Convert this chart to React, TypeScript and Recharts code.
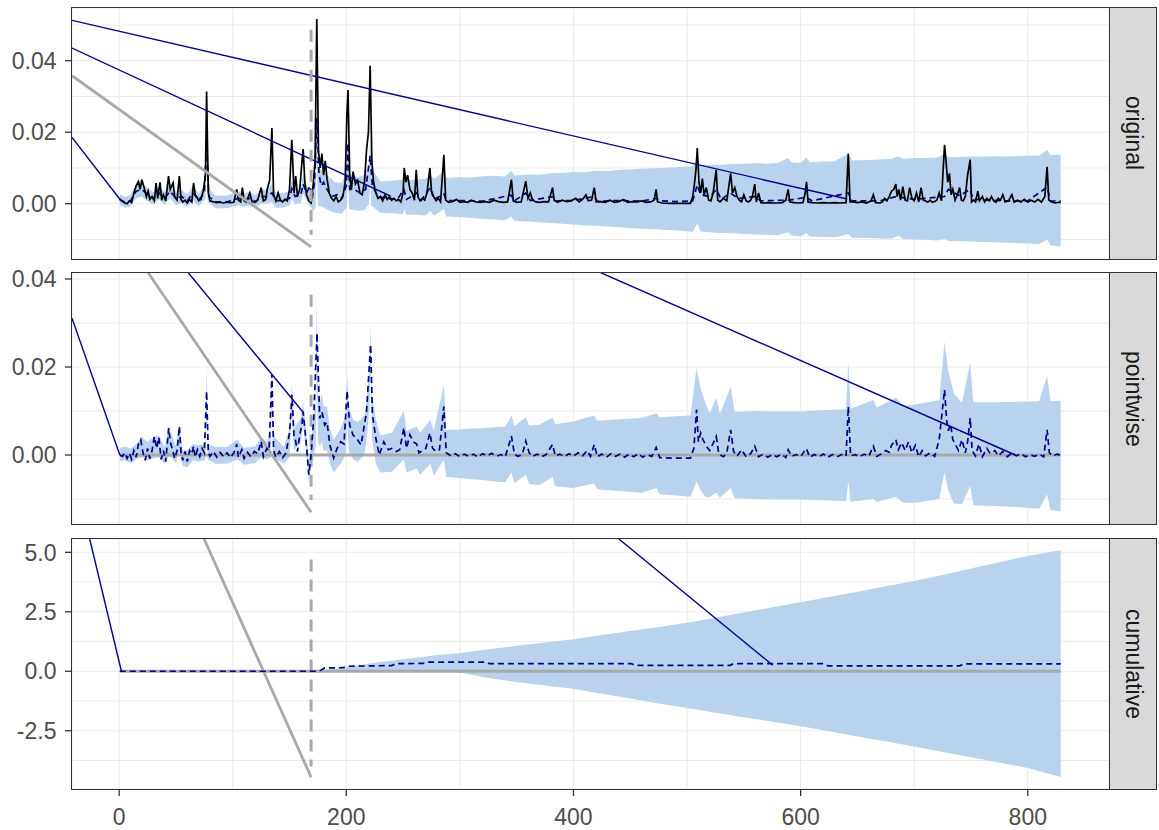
import React from 'react'
import { Area, CartesianGrid, ComposedChart, Line, XAxis, YAxis } from 'recharts'

type P = [number, number]
type R = [number, number, number]

const FONT = '"Liberation Sans", Arial, Helvetica, sans-serif'
const DARKBLUE = '#00008b'
const GREY = '#a9a9a9'
const BAND = '#b9d3ee'

// x axis (shared by all three facets)
const xDomain: [number, number] = [-41.5, 871.5]
const xTicks = [0, 100, 200, 300, 400, 500, 600, 700, 800]
const xMajor = [0, 200, 400, 600, 800]
const interventionX = 169

// y axes per facet
const p1Domain: [number, number] = [-0.01547, 0.05475]
const p1Ticks = [-0.01, 0, 0.01, 0.02, 0.03, 0.04, 0.05]
const p1Major = [0, 0.02, 0.04]
const p2Domain: [number, number] = [-0.01568, 0.04136]
const p2Ticks = [-0.01, 0, 0.01, 0.02, 0.03, 0.04]
const p2Major = [0, 0.02, 0.04]
const p3Domain: [number, number] = [-4.95, 5.56]
const p3Ticks = [-3.75, -2.5, -1.25, 0, 1.25, 2.5, 3.75, 5]
const p3Major = [-2.5, 0, 2.5, 5]

// original: observed series (black)
const observed: P[] = [
  [0.6, 0.0013], [3, 0.0006], [5, 0.0002], [7, 0], [9, 0.0008], [11, 0.0003], [13, 0.003], [15, 0.005],
  [17, 0.0062], [18.5, 0.004], [20, 0.0067], [22, 0.0045], [24, 0.002], [25.5, 0.0035], [27, 0.0012],
  [29, 0.002], [31, 0.0008], [32.5, 0.0058], [34, 0.0015], [36, 0.006], [37.5, 0.001], [39, 0.0025],
  [41, 0.0008], [43.5, 0.0077], [45, 0.004], [47.5, 0.0058], [49, 0.0018], [51, 0.001], [53, 0.0077],
  [54.5, 0.0012], [56, 0.0005], [58, 0.001], [60, 0.0002], [62, 0.0012], [64, 0.0005], [65.5, 0.0058],
  [67, 0.0025], [68.5, 0.0018], [70, 0.0008], [72, 0.0012], [74, 0.0035], [76, 0.008], [77, 0.0314],
  [78.5, 0.003], [80, 0.0008], [83, 0.0005], [86, 0.0003], [89, 0.0004], [92, 0.0002], [95, 0.0004],
  [98, 0.0003], [101, 0.0004], [103.5, 0.004], [105, 0.001], [107, 0.0005], [108.5, 0.0045], [110, 0.0008],
  [112, 0.0004], [115, 0.003], [117, 0.0006], [120, 0.0004], [122, 0.001], [125, 0.0045], [127, 0.0008],
  [129, 0.0012], [130.5, 0.0042], [132.5, 0.0065], [134.5, 0.0212], [136, 0.0025], [138, 0.0008],
  [140, 0.003], [142, 0.001], [144, 0.0005], [146, 0.0012], [148, 0.0008], [150, 0.004], [152, 0.0179],
  [154, 0.003], [155.5, 0.0077], [157, 0.002], [159, 0.004], [160.5, 0.01], [162, 0.0153], [163.5, 0.006],
  [165, 0.0025], [167, 0.0008], [169, 0.0002],
  [171, 0.006], [172.5, 0.012], [174, 0.0517], [175.5, 0.015], [177, 0.01], [178.5, 0.014], [180, 0.008],
  [181.5, 0.012], [183, 0.007], [185, 0.003], [187, 0.0015], [189, 0.0008], [191, 0.002], [193, 0.0005],
  [195, 0.001], [197, 0.002], [199, 0.006], [200.5, 0.025], [201.5, 0.0318], [203, 0.008], [204.5, 0.004],
  [206, 0.009], [208, 0.0055], [210, 0.0065], [212, 0.003], [214, 0.0025], [216, 0.006], [217.8, 0.015],
  [219.5, 0.02], [221, 0.0386], [222.5, 0.012], [224, 0.006], [226, 0.003], [228, 0.0015], [230, 0.002],
  [232, 0.0008], [234, 0.0025], [236, 0.0012], [238, 0.002], [240, 0.001], [242, 0.0015], [244, 0.0008],
  [246, 0.0012], [248, 0.0005], [250, 0.003], [251, 0.01], [252.5, 0.006], [254, 0.008], [256, 0.004],
  [258, 0.003], [260, 0.001], [261.6, 0.0095], [263, 0.002], [265, 0.0008], [267, 0.0015], [269, 0.001],
  [271, 0.003], [273.6, 0.01], [275, 0.0035], [277, 0.002], [279, 0.0008], [281, 0.0015], [283, 0.0005],
  [285.9, 0.0137], [287.5, 0.001], [290, 0.0004], [294, 0.0006], [297, 0.0012], [300, 0.0004], [304, 0.0006],
  [307, 0.0004], [310, 0.001], [314, 0.0005], [318, 0.0004], [322, 0.0006], [326, 0.0004], [330, 0.001],
  [334, 0.0006], [338, 0.0004], [342, 0.0005], [345.4, 0.0067], [347, 0.0008], [350, 0.0004], [354, 0.0005],
  [358, 0.0063], [360, 0.0015], [362, 0.003], [364, 0.001], [367, 0.0005], [370, 0.0004], [374, 0.0006],
  [378, 0.0005], [381.6, 0.0045], [383, 0.001], [386, 0.0004], [390, 0.001], [394, 0.0006], [398, 0.0008],
  [402, 0.0015], [405, 0.0005], [408, 0.0012], [411, 0.0025], [413, 0.0008], [416, 0.001], [418.3, 0.0045],
  [420, 0.0005], [424, 0.0006], [428, 0.0004], [432, 0.001], [436, 0.0004], [440, 0.0006], [444, 0.0012],
  [448, 0.0004], [452, 0.0006], [456, 0.0005], [460, 0.0008], [464, 0.0004], [468, 0.0005], [471, 0.001],
  [472.8, 0.004], [474, 0.0005], [478, 0.0002], [485, 0.0001], [495, 0.0001], [503, 0.0001], [505, 0.002],
  [506.5, 0.0055], [508, 0.01], [509, 0.0156], [510.5, 0.006], [512, 0.003], [513.5, 0.007], [515, 0.0025],
  [517, 0.0045], [519, 0.001], [521, 0.0008], [523, 0.003], [525.7, 0.0095], [527, 0.001], [529, 0.0005],
  [532, 0.0015], [535, 0.0008], [538.4, 0.0085], [540, 0.003], [542, 0.0045], [544, 0.002], [546, 0.001],
  [548, 0.0005], [550, 0.0025], [552, 0.0008], [554, 0.0005], [556, 0.001], [557.5, 0.002], [559.6, 0.0055],
  [561, 0.0005], [563, 0.003], [565, 0.0003], [568, 0.0002], [572, 0.0003], [576, 0.0002], [580, 0.0002],
  [584, 0.0003], [587, 0.001], [589, 0.004], [590.5, 0.0005], [594, 0.0003], [598, 0.0002], [602, 0.0003],
  [604, 0.003], [605.2, 0.0061], [606.5, 0.0005], [610, 0.0003], [615, 0.0002], [620, 0.0003], [625, 0.0002],
  [630, 0.0003], [635, 0.0002], [640, 0.0003], [642, 0.014], [643.5, 0.0005], [646, 0.0005], [650, 0.0003],
  [654, 0.0005], [658, 0.0002], [662, 0.0008], [664, 0.0025], [666, 0.0003], [670, 0.0002], [672, 0.0005],
  [674, 0.0015], [676, 0.0008], [678, 0.002], [680, 0.0035], [682, 0.004], [683.8, 0.0055], [685, 0.002],
  [686.5, 0.004], [688, 0.001], [690, 0.0048], [692, 0.001], [694, 0.0008], [696, 0.0045], [698, 0.0015],
  [700, 0.0008], [702, 0.003], [704, 0.0005], [706, 0.0045], [708, 0.001], [710, 0.0008], [712, 0.0004],
  [714, 0.001], [716, 0.0004], [718, 0.0006], [720, 0.001], [722, 0.003], [724, 0.0008], [726.7, 0.0165],
  [728, 0.012], [729.5, 0.006], [731, 0.0085], [732.5, 0.0025], [734, 0.004], [736, 0.001], [738, 0.0025],
  [740, 0.0045], [741.5, 0.001], [743, 0.0008], [745, 0.002], [747, 0.008], [749.3, 0.0123], [750.5, 0.0005],
  [752, 0.001], [754, 0.0005], [756, 0.0035], [757.5, 0.0008], [760, 0.002], [762, 0.0005], [764, 0.0015],
  [766, 0.0008], [768, 0.002], [770, 0.0008], [772, 0.0004], [774, 0.0015], [776, 0.001], [778, 0.0025],
  [780, 0.0005], [783, 0.0008], [786, 0.0025], [788, 0.0004], [791, 0.001], [794, 0.0005], [797, 0.0012],
  [800, 0.0004], [803, 0.001], [806, 0.0005], [809, 0.0012], [812, 0.0004], [815, 0.002], [817, 0.0103],
  [818.5, 0.001], [821, 0.0005], [824, 0.0002], [827, 0.0004], [829, 0.0003],
]

// original: predicted series (dashed blue)
const predicted: P[] = [
  [0.6, 0.0012], [5, 0.0004], [10, 0.0008], [15, 0.0035], [20, 0.004], [25, 0.0025], [30, 0.0015],
  [35, 0.003], [40, 0.0015], [45, 0.0035], [50, 0.0015], [55, 0.002], [60, 0.0008], [65, 0.003], [70, 0.001],
  [75, 0.003], [77, 0.017], [79, 0.002], [85, 0.0005], [95, 0.0005], [105, 0.0015], [110, 0.001],
  [115, 0.0015], [120, 0.0006], [125, 0.002], [130, 0.002], [134.5, 0.003], [138, 0.0008], [145, 0.001],
  [150, 0.0015], [152, 0.0042], [155, 0.002], [160, 0.0025], [162, 0.0055], [165, 0.003], [168, 0.005],
  [170, 0.0015], [172, 0.006], [174, 0.024], [176, 0.008], [178, 0.005], [180, 0.006], [183, 0.004],
  [187, 0.002], [192, 0.0025], [196, 0.0015], [200, 0.005], [201.5, 0.017], [203, 0.004], [207, 0.004],
  [212, 0.003], [217, 0.004], [221, 0.0135], [223, 0.005], [228, 0.002], [235, 0.0015], [245, 0.0012],
  [250.7, 0.004], [253, 0.0012], [262, 0.003], [266, 0.001], [274, 0.0045], [277, 0.0012], [286, 0.0027],
  [288, 0.0009], [300, 0.0009], [320, 0.0007], [345, 0.0024], [348, 0.0008], [358, 0.003], [362, 0.0009],
  [382, 0.002], [385, 0.0008], [400, 0.0009], [418, 0.002], [421, 0.0007], [440, 0.0009], [460, 0.0007],
  [473, 0.0015], [476, 0.0008], [490, 0.0006], [505, 0.0008], [509, 0.0053], [512, 0.0025], [520, 0.002],
  [526, 0.004], [530, 0.0012], [538, 0.003], [545, 0.0015], [560, 0.002], [565, 0.0008], [590, 0.001],
  [605, 0.0018], [610, 0.0008], [642, 0.003], [645, 0.0008], [670, 0.0008], [684, 0.002], [700, 0.0012],
  [726.7, 0.002], [730, 0.004], [740, 0.0022], [749, 0.004], [752, 0.0012], [780, 0.0008], [800, 0.0008],
  [817, 0.0046], [820, 0.0008], [829, 0.0007],
]

// original: interval [lower, upper]
const originalBand: R[] = [
  [0.6, -0.0003, 0.0027], [5, -0.0011, 0.0019], [10, -0.0008, 0.0024], [15, 0.0015, 0.0055],
  [20, 0.002, 0.006], [25, 0.0007, 0.0043], [30, -0.0002, 0.0032], [35, 0.0012, 0.0048],
  [40, -0.0003, 0.0033], [45, 0.0015, 0.0055], [50, -0.0004, 0.0034], [55, 0.0002, 0.0038],
  [60, -0.001, 0.0026], [65, 0.001, 0.005], [70, -0.0008, 0.0028], [75, 0.001, 0.005], [76, 0.0015, 0.0055],
  [77, 0.013, 0.021], [78, 0.0005, 0.0045], [85, -0.0013, 0.0023], [95, -0.0013, 0.0023],
  [105, -0.0004, 0.0034], [110, -0.0008, 0.0028], [115, -0.0004, 0.0034], [120, -0.0012, 0.0024],
  [125, 0, 0.004], [130, 0, 0.004], [134.5, 0.0005, 0.0055], [138, -0.0012, 0.0028], [145, -0.001, 0.003],
  [150, -0.0005, 0.0035], [152, 0.0015, 0.0065], [155, -0.0002, 0.0042], [160, 0.0003, 0.0047],
  [162, 0.003, 0.008], [165, 0.0008, 0.0052], [169, -0.0012, 0.0032], [171, -0.002, 0.005],
  [173, -0.001, 0.008], [174, 0.012, 0.03], [175, -0.0005, 0.01], [178, -0.0008, 0.0095],
  [180, -0.001, 0.009], [185, -0.002, 0.0075], [190, -0.0025, 0.006], [196, -0.0028, 0.0058],
  [200.5, -0.001, 0.009], [201.5, 0.008, 0.022], [202.5, -0.0015, 0.0085], [210, -0.002, 0.0075],
  [216, -0.0018, 0.008], [220, 0, 0.011], [221, 0.006, 0.019], [222, -0.0005, 0.01], [230, -0.0025, 0.0062],
  [240, -0.0027, 0.0064], [250, -0.0029, 0.0068], [251, -0.0015, 0.0085], [253, -0.003, 0.0066],
  [260, -0.0031, 0.0068], [270, -0.0033, 0.007], [274, -0.002, 0.0082], [277, -0.0034, 0.0069],
  [286, -0.0015, 0.009], [288, -0.0036, 0.0072], [300, -0.0038, 0.0074], [310, -0.004, 0.0073],
  [320, -0.0043, 0.0077], [330, -0.0044, 0.0078], [340, -0.0046, 0.0076], [345, -0.0035, 0.0092],
  [348, -0.0048, 0.0079], [360, -0.005, 0.0082], [370, -0.0052, 0.0081], [380, -0.0054, 0.0085],
  [390, -0.0056, 0.0086], [400, -0.0058, 0.0089], [410, -0.0061, 0.0088], [420, -0.0062, 0.0092],
  [430, -0.0064, 0.0091], [440, -0.0066, 0.0095], [450, -0.0068, 0.0096], [460, -0.007, 0.0098],
  [470, -0.0071, 0.0099], [480, -0.0073, 0.01], [490, -0.0075, 0.0102], [500, -0.0077, 0.0104],
  [505, -0.0079, 0.0104], [509, -0.0055, 0.0125], [512, -0.0078, 0.0106], [520, -0.008, 0.0108],
  [530, -0.0082, 0.0109], [540, -0.0083, 0.0111], [550, -0.0085, 0.0112], [560, -0.0086, 0.0113],
  [570, -0.0087, 0.0112], [580, -0.0088, 0.0114], [589, -0.008, 0.0128], [592, -0.0089, 0.0115],
  [600, -0.0091, 0.0114], [605, -0.0082, 0.013], [608, -0.0092, 0.0116], [620, -0.0093, 0.0118],
  [630, -0.0094, 0.0119], [642, -0.0085, 0.014], [645, -0.0095, 0.0121], [660, -0.0096, 0.0122],
  [670, -0.0097, 0.0124], [680, -0.0098, 0.0125], [686, -0.009, 0.0133], [690, -0.0099, 0.0126],
  [700, -0.01, 0.0128], [710, -0.0101, 0.0128], [720, -0.0103, 0.0129], [727, -0.0098, 0.014],
  [730, -0.0104, 0.013], [740, -0.0105, 0.0131], [750, -0.0106, 0.0132], [760, -0.0107, 0.0132],
  [770, -0.0108, 0.0133], [780, -0.0109, 0.0132], [790, -0.011, 0.0133], [800, -0.0111, 0.0134],
  [810, -0.0113, 0.0135], [817, -0.01, 0.015], [820, -0.0116, 0.0136], [829, -0.012, 0.0137],
]

// pointwise effect (dashed blue)
const pointwise: P[] = [
  [0.6, 0], [3, -0.0003], [5, 0.0005], [7, -0.0008], [9, 0.0004], [11, -0.001], [13, 0.001], [15, -0.0005],
  [17, 0.0025], [19, 0.0035], [21, 0.0005], [23, -0.0012], [25, 0.0015], [27, -0.0008], [29, 0.001],
  [31, 0.0042], [33, 0.0015], [35, 0.004], [37, -0.001], [39, 0.001], [41, -0.0015], [43.6, 0.0061],
  [45, 0.003], [47, 0.0012], [49, -0.0008], [51, 0.001], [53, 0.0065], [54.5, 0.0005], [56, -0.0012],
  [58, 0.0008], [60, -0.0015], [62, 0.001], [64, 0.0002], [65.5, 0.002], [67, -0.0005], [69, 0.0012],
  [71, -0.0003], [73, 0.0015], [75, 0.0005], [77, 0.0145], [78.5, 0.0005], [80, -0.0003], [83, 0.0008],
  [86, -0.0005], [89, 0.0006], [92, -0.0004], [95, 0.0005], [98, -0.0006], [101, 0.0005], [103.6, 0.0025],
  [105, -0.0005], [108, 0.0012], [110, -0.0008], [113, 0.0006], [116, -0.0004], [119, 0.0008], [122, 0.0003],
  [125, 0.0031], [127, -0.0004], [130, 0.0015], [132, 0.001], [134.5, 0.0183], [136, 0.001], [138, -0.0005],
  [141, 0.0008], [144, -0.0006], [147, 0.0005], [150, 0.005], [152.2, 0.0137], [154, 0.004], [155, 0.0037],
  [157, 0.0008], [159, 0.0045], [161, 0.007], [162, 0.0098], [163.5, 0.006], [165, 0.002], [167, -0.0045],
  [169, 0], [171.3, 0.0083], [174.2, 0.0277], [176.6, 0.0083], [178.6, 0.0098], [181, 0.0068], [183, 0.0075],
  [185.5, 0.0023], [188.9, -0.0007], [191.9, 0.0015], [195, 0.003], [198, 0.0025], [200.7, 0.0146],
  [203, 0.0068], [206, 0.0045], [209, 0.0038], [213, 0.0023], [217.8, 0.0098], [221.4, 0.0251], [223, 0.0092],
  [226, 0.0038], [229, 0], [233, 0.003], [237, 0.0012], [240, 0.0015], [244, 0.0008], [247, 0.0012],
  [250.7, 0.0062], [253, 0.0015], [256, 0.0046], [259, 0.003], [262, 0.0025], [264, 0.0005], [267, 0.001],
  [270, 0.0015], [273.6, 0.005], [276, 0.0015], [279, 0.0008], [282, 0.0012], [285.9, 0.011], [288, 0.0005],
  [292, -0.0002], [296, 0.0003], [300, -0.0004], [304, 0.0002], [308, -0.0003], [312, 0.0002], [316, -0.0005],
  [320, 0.0003], [324, -0.0002], [328, 0.0004], [332, -0.0003], [336, 0.0001], [340, -0.0004], [345.4, 0.0043],
  [348, 0.0002], [351, -0.0003], [355, 0.0001], [358, 0.0032], [361, 0.0005], [364, -0.0003], [368, 0.0002],
  [372, -0.0004], [376, 0.0001], [381.6, 0.0024], [384, -0.0002], [388, 0.0002], [392, -0.0004], [396, 0.0003],
  [400, -0.0003], [404, 0.0005], [408, -0.0002], [412, 0.001], [415, -0.0003], [418.3, 0.0024], [421, -0.0004],
  [425, 0.0002], [429, -0.0005], [433, 0.0003], [437, -0.0003], [441, 0.0002], [445, -0.0005], [449, 0.0002],
  [453, -0.0004], [457, 0.0003], [461, -0.0005], [465, 0.0001], [469, -0.0003], [472.8, 0.0017], [476, -0.0006],
  [485, -0.0007], [495, -0.0007], [503, -0.0007], [506, 0.0015], [508.4, 0.0103], [510, 0.003], [512, 0.005],
  [514, 0.0035], [517, 0.002], [520, 0.001], [525.7, 0.0042], [528, 0.0002], [532, -0.0004], [535, 0.0005],
  [538.4, 0.0057], [541, 0.0008], [544, -0.0003], [548, 0.0012], [552, -0.0004], [556, 0.0003], [559.6, 0.002],
  [563, -0.0004], [567, 0.0002], [571, -0.0005], [575, 0.0001], [579, -0.0004], [583, 0.0002], [587, -0.0006],
  [589, 0.0012], [592, -0.0003], [596, 0.0001], [600, -0.0004], [605, 0.0015], [608, -0.0005], [612, 0.0001],
  [616, -0.0004], [620, 0.0002], [624, -0.0005], [628, 0.0001], [632, -0.0004], [636, 0.0001], [640, -0.0003],
  [642, 0.011], [644, -0.0002], [648, 0.0001], [652, -0.0004], [656, 0.0002], [660, -0.0003], [664, 0.002],
  [667, -0.0003], [671, 0.0002], [675, 0.001], [678, 0.0006], [680, 0.0022], [683.8, 0.0035], [686, 0.0012],
  [689, 0.0028], [692, 0.001], [695, 0.003], [698, 0.0005], [701, 0.0022], [704, -0.0004], [707, 0.001],
  [710, -0.0002], [714, 0.0005], [718, -0.0003], [722, 0.0035], [726.7, 0.0148], [728.5, 0.008], [730, 0.0055],
  [732, 0.007], [734, 0.0035], [736, 0.0025], [739, 0.001], [742, 0.0035], [745, 0.0005], [747, 0.003],
  [749.3, 0.0084], [751, 0.001], [754, -0.0002], [757, 0.0025], [760, -0.0004], [764, 0.0015], [767, 0.0003],
  [771, 0.001], [774, -0.0002], [778, 0.0008], [782, -0.0004], [786, 0.0005], [790, -0.0002], [794, 0.0003],
  [798, -0.0004], [802, 0.0001], [806, -0.0003], [810, 0.0002], [814, -0.0004], [817, 0.0057], [819, 0.0005],
  [822, -0.0002], [826, 0.0002], [829, -0.0001],
]

// pointwise: interval [lower, upper]
const pointwiseBand: R[] = [
  [0.6, -0.0014, 0.0016], [5, -0.0012, 0.002], [10, -0.0018, 0.0014], [15, -0.001, 0.0025],
  [20, -0.0005, 0.004], [25, -0.0012, 0.003], [30, -0.0008, 0.004], [35, -0.0005, 0.0045],
  [40, -0.002, 0.0018], [44, 0, 0.0065], [50, -0.0018, 0.002], [53, 0.001, 0.0068], [56, -0.0025, 0.001],
  [60, -0.0028, 0.001], [65, -0.0012, 0.0025], [70, -0.0015, 0.0022], [75, -0.0012, 0.0025],
  [76, -0.001, 0.003], [77, 0.009, 0.021], [78, -0.001, 0.0025], [85, -0.002, 0.0018], [95, -0.002, 0.0018],
  [104, -0.001, 0.0035], [110, -0.0022, 0.0016], [120, -0.0018, 0.002], [125, -0.0005, 0.004],
  [130, -0.001, 0.003], [133.5, -0.0005, 0.005], [134.5, 0.013, 0.02], [135.5, -0.0005, 0.0045],
  [145, -0.002, 0.0018], [150, -0.0005, 0.006], [152, 0.01, 0.016], [154, 0.001, 0.006], [160, 0.003, 0.0085],
  [162, 0.007, 0.012], [165, -0.0005, 0.0045], [167, -0.0065, -0.002], [169, -0.0025, 0.002],
  [171, -0.001, 0.009], [173, 0.002, 0.012], [174, 0.02, 0.0364], [175.2, 0.003, 0.013], [176.6, 0.002, 0.012],
  [178.6, 0.003, 0.014], [180, 0.001, 0.011], [183, 0.001, 0.011], [185.5, -0.002, 0.006],
  [189, -0.004, 0.0035], [195, -0.002, 0.006], [199.5, 0, 0.009], [200.7, 0.009, 0.019], [202, 0.001, 0.011],
  [206, -0.001, 0.008], [210, -0.0015, 0.0075], [216, 0, 0.009], [218, 0.004, 0.013], [220.3, 0.01, 0.02],
  [221.4, 0.019, 0.0297], [222.5, 0.004, 0.014], [226, -0.002, 0.008], [230, -0.004, 0.0045],
  [240, -0.0038, 0.005], [250.7, -0.001, 0.01], [253, -0.004, 0.0055], [262, -0.003, 0.0065],
  [265, -0.0045, 0.005], [274, -0.002, 0.008], [277, -0.0047, 0.0055], [286, -0.001, 0.016],
  [288, -0.005, 0.0057], [300, -0.0052, 0.0058], [310, -0.0055, 0.006], [320, -0.0057, 0.0061],
  [330, -0.006, 0.0063], [340, -0.0062, 0.0064], [345.4, -0.004, 0.009], [348, -0.0064, 0.0066],
  [358, -0.0045, 0.0085], [361, -0.0066, 0.0067], [370, -0.0068, 0.0069], [381.6, -0.005, 0.0085],
  [384, -0.0071, 0.007], [400, -0.0075, 0.0076], [418, -0.0065, 0.009], [421, -0.0078, 0.0078],
  [440, -0.0082, 0.0081], [460, -0.0086, 0.0084], [473, -0.0075, 0.0095], [476, -0.0089, 0.0086],
  [490, -0.0092, 0.0088], [503, -0.0095, 0.009], [508.4, -0.006, 0.0198], [512, -0.008, 0.015],
  [516, -0.0095, 0.012], [520, -0.0096, 0.0095], [525.7, -0.0085, 0.013], [529, -0.0097, 0.0094],
  [538.4, -0.0075, 0.0155], [542, -0.0098, 0.0098], [560, -0.01, 0.01], [580, -0.0101, 0.0099],
  [600, -0.0101, 0.0099], [620, -0.0103, 0.0102], [640, -0.0105, 0.0104], [642, -0.006, 0.0213],
  [644, -0.0106, 0.0105], [664, -0.01, 0.0125], [667, -0.0107, 0.0108], [684, -0.0095, 0.013],
  [690, -0.0108, 0.0112], [700, -0.0109, 0.0114], [722, -0.01, 0.0125], [726.7, -0.004, 0.0258],
  [730, -0.008, 0.019], [735, -0.011, 0.014], [742, -0.0112, 0.0118], [749.3, -0.007, 0.021],
  [752, -0.0114, 0.012], [770, -0.0116, 0.012], [790, -0.0118, 0.0121], [810, -0.0122, 0.0122],
  [817, -0.009, 0.018], [820, -0.0125, 0.0123], [829, -0.0128, 0.0123],
]

// cumulative effect (dashed blue)
const cumulative: P[] = [
  [0.6, 0], [170, 0], [176, 0], [181, 0.14], [197, 0.15], [201, 0.21], [240, 0.24], [244, 0.32],
  [268, 0.33], [272, 0.38], [323, 0.38], [326, 0.32], [451, 0.32], [454, 0.25], [538, 0.25], [541, 0.32],
  [620, 0.32], [624, 0.23], [740, 0.23], [744, 0.31], [829, 0.31],
]

// cumulative: interval [lower, upper]
const cumulativeBand: R[] = [
  [170, 0, 0], [200, 0, 0.17], [225, 0, 0.36], [250, 0, 0.5], [275, -0.01, 0.65], [300, -0.05, 0.77],
  [325, -0.28, 0.92], [350, -0.45, 1.07], [375, -0.6, 1.21], [400, -0.74, 1.35], [425, -0.95, 1.52],
  [450, -1.15, 1.69], [475, -1.36, 1.86], [500, -1.54, 2.04], [525, -1.74, 2.25], [550, -1.93, 2.47],
  [575, -2.12, 2.69], [600, -2.31, 2.9], [625, -2.52, 3.12], [650, -2.74, 3.34], [675, -2.95, 3.57],
  [700, -3.16, 3.79], [725, -3.39, 4.05], [750, -3.61, 4.32], [775, -3.84, 4.58], [800, -4.07, 4.85],
  [829, -4.45, 5.09],
]

// stray path segments that run through each facet
const origStrayBlue: P[][] = [
  [[-41.5, 0.0513], [641, 0.0013]],
  [[-41.5, 0.04355], [239, 0.0021]],
  [[-41.5, 0.01855], [1, 0.0011]],
]
const origStrayGrey: P[] = [[-41.5, 0.0358], [169, -0.0121]]
const pointStrayBlue: P[][] = [
  [[-41.5, 0.0311], [0.6, 0]],
  [[60.9, 0.0414], [162, 0.0097]],
  [[424.3, 0.0414], [789, 0]],
]
const pointStrayGrey: P[] = [[25.6, 0.0414], [169, -0.013]]
const cumStrayBlue: P[][] = [
  [[-25.9, 5.56], [2, 0]],
  [[440, 5.56], [575.5, 0.25]],
]
const cumStrayGrey: P[] = [[74.8, 5.56], [169, -4.45]]

// zero reference and intervention marker per facet
const zeroLine: P[] = [[0.6, 0], [829, 0]]
const origVLine: P[] = [[interventionX, 0.0487], [interventionX, -0.0087]]
const pointVLine: P[] = [[interventionX, 0.0364], [interventionX, -0.0102]]
const cumVLine: P[] = [[interventionX, 4.7], [interventionX, -4.0]]

const xy = (pairs: P[]) => pairs.map(([x, y]) => ({ x, y }))
const band = (rows: R[]) => rows.map(([x, lo, hi]) => ({ x, range: [lo, hi] }))

const PAD = 16
const PLOT_LEFT = 72
const PLOT_RIGHT = 1109
const STRIP_W = 48

const makeYTick = (major: number[], fmt: (v: number) => string) => (props: any) => {
  const { x, y, payload } = props
  if (!major.includes(payload.value)) return <g />
  return (
    <g>
      <line x1={x - 7} x2={x} y1={y} y2={y} stroke="#333333" strokeWidth={1.3} />
      <text x={x - 15.5} y={y} dy={8.2} textAnchor="end" fill="#4d4d4d" fontSize={23} fontFamily={FONT}>
        {fmt(payload.value)}
      </text>
    </g>
  )
}

const renderXTick = (props: any) => {
  const { x, y, payload } = props
  if (!xMajor.includes(payload.value)) return <g />
  return (
    <g>
      <line x1={x} x2={x} y1={y} y2={y + 7} stroke="#333333" strokeWidth={1.3} />
      <text x={x} y={y} dy={35.5} textAnchor="middle" fill="#4d4d4d" fontSize={23} fontFamily={FONT}>
        {payload.value}
      </text>
    </g>
  )
}

const emptyTick = () => <g />

const blueDash = { stroke: DARKBLUE, strokeWidth: 1.7, strokeDasharray: '6 4' }

function stray(data: P[], color: string, width: number, key: string) {
  return (
    <Line
      key={key}
      data={xy(data)}
      dataKey="y"
      stroke={color}
      strokeWidth={width}
      dot={false}
      type="linear"
      isAnimationActive={false}
    />
  )
}

function Facet(props: {
  top: number
  height: number
  domain: [number, number]
  ticks: number[]
  major: number[]
  fmt: (v: number) => string
  label: string
  showX?: boolean
  children: React.ReactNode
}) {
  const { top, height, domain, ticks, major, fmt, label, showX, children } = props
  const axisH = showX ? 40 : 0
  const bottomPad = showX ? 0 : PAD
  return (
    <>
      <div style={{ position: 'absolute', left: 0, top: top - PAD }}>
        <ComposedChart
          width={PLOT_RIGHT}
          height={PAD + height + axisH + bottomPad}
          margin={{ top: PAD, right: 0, bottom: bottomPad, left: 0 }}
        >
          <CartesianGrid stroke="#ebebeb" strokeWidth={1.1} />
          <XAxis
            type="number"
            dataKey="x"
            domain={xDomain}
            allowDataOverflow
            ticks={xTicks}
            interval={0}
            height={axisH}
            tickSize={0}
            tickMargin={0}
            axisLine={false}
            tickLine={false}
            tick={showX ? renderXTick : emptyTick}
          />
          <YAxis
            type="number"
            domain={domain}
            allowDataOverflow
            ticks={ticks}
            interval={0}
            width={PLOT_LEFT}
            tickSize={0}
            tickMargin={0}
            axisLine={false}
            tickLine={false}
            tick={makeYTick(major, fmt)}
          />
          {children}
        </ComposedChart>
      </div>
      <div
        style={{
          position: 'absolute',
          left: PLOT_LEFT - 0.6,
          top: top - 0.6,
          width: PLOT_RIGHT - PLOT_LEFT + 1.2,
          height: height + 1.2,
          border: '1.3px solid #333333',
          boxSizing: 'border-box',
          pointerEvents: 'none',
        }}
      />
      <div
        style={{
          position: 'absolute',
          left: PLOT_RIGHT,
          top: top - 0.6,
          width: STRIP_W,
          height: height + 1.2,
          border: '1.3px solid #333333',
          boxSizing: 'border-box',
          background: '#d9d9d9',
          display: 'flex',
          alignItems: 'center',
          justifyContent: 'center',
        }}
      >
        <span style={{ writingMode: 'vertical-rl', fontFamily: FONT, fontSize: 23, color: '#1a1a1a' }}>
          {label}
        </span>
      </div>
    </>
  )
}

export default function App() {
  return (
    <div
      style={{
        position: 'absolute',
        left: 0,
        top: 0,
        width: 1159,
        height: 830,
        overflow: 'hidden',
        background: '#ffffff',
        fontFamily: FONT,
      }}
    >
      <Facet top={8} height={251} domain={p1Domain} ticks={p1Ticks} major={p1Major} fmt={(v) => v.toFixed(2)} label="original">
        <Area data={band(originalBand)} dataKey="range" fill={BAND} fillOpacity={1} stroke="none" type="linear" isAnimationActive={false} />
        <Line data={xy(predicted)} dataKey="y" {...blueDash} dot={false} type="linear" isAnimationActive={false} />
        <Line data={xy(observed)} dataKey="y" stroke="#000000" strokeWidth={1.7} dot={false} type="linear" isAnimationActive={false} />
        {stray(origStrayGrey, GREY, 2.8, 'og')}
        {origStrayBlue.map((s, i) => stray(s, DARKBLUE, 1.4, 'ob' + i))}
        <Line data={xy(origVLine)} dataKey="y" stroke={GREY} strokeWidth={3} strokeDasharray="12 8" dot={false} isAnimationActive={false} />
      </Facet>
      <Facet top={273} height={251} domain={p2Domain} ticks={p2Ticks} major={p2Major} fmt={(v) => v.toFixed(2)} label="pointwise">
        <Area data={band(pointwiseBand)} dataKey="range" fill={BAND} fillOpacity={1} stroke="none" type="linear" isAnimationActive={false} />
        <Line data={xy(zeroLine)} dataKey="y" stroke={GREY} strokeWidth={3} dot={false} isAnimationActive={false} />
        {stray(pointStrayGrey, GREY, 2.8, 'pg')}
        <Line data={xy(pointVLine)} dataKey="y" stroke={GREY} strokeWidth={3} strokeDasharray="12 8" dot={false} isAnimationActive={false} />
        <Line data={xy(pointwise)} dataKey="y" {...blueDash} dot={false} type="linear" isAnimationActive={false} />
        {pointStrayBlue.map((s, i) => stray(s, DARKBLUE, 1.4, 'pb' + i))}
      </Facet>
      <Facet top={539} height={250} domain={p3Domain} ticks={p3Ticks} major={p3Major} fmt={(v) => v.toFixed(1)} label="cumulative" showX>
        <Area data={band(cumulativeBand)} dataKey="range" fill={BAND} fillOpacity={1} stroke="none" type="linear" isAnimationActive={false} />
        <Line data={xy(zeroLine)} dataKey="y" stroke={GREY} strokeWidth={3} dot={false} isAnimationActive={false} />
        {stray(cumStrayGrey, GREY, 2.8, 'cg')}
        <Line data={xy(cumVLine)} dataKey="y" stroke={GREY} strokeWidth={3} strokeDasharray="12 8" dot={false} isAnimationActive={false} />
        <Line data={xy(cumulative)} dataKey="y" {...blueDash} dot={false} type="linear" isAnimationActive={false} />
        {cumStrayBlue.map((s, i) => stray(s, DARKBLUE, 1.4, 'cb' + i))}
      </Facet>
    </div>
  )
}
